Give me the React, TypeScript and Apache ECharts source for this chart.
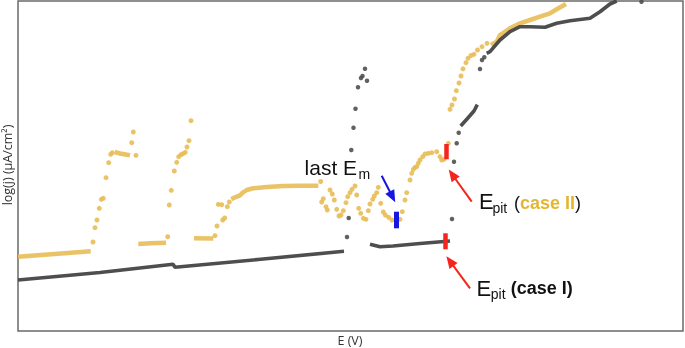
import React, { useEffect, useRef } from "react";
import * as echarts from "echarts";

// Axis extents (arbitrary units, no tick labels in the source figure)
const E_MIN = 0;
const E_MAX = 665;
const J_MIN = 0;
const J_MAX = 330;

// Case I (dark curve): densely sampled runs
const caseIRuns: [number, number][][] = [
  [[0, 51], [82, 58.5], [155, 66.7], [157, 63.7], [240, 71.5], [326, 79.7]],
  [[352, 86.7], [362, 84.3], [375, 85], [402, 87.5], [432, 90]],
  [[442.7, 205], [449, 212], [456, 220], [459.3, 226.3]],
  [[468.7, 277.7], [472, 279.3], [482, 291], [492, 299.3], [502, 304.3], [512, 304.3], [527, 303.7], [538.7, 307.7], [552, 310.3], [572, 312.7], [582, 319.3], [592, 327], [598.7, 330]],
];
// Case I: isolated points
const caseIPoints: [number, number][] = [
  [329, 94], [330.7, 113], [333.3, 181], [335.5, 203.3], [337.5, 222.3], [340, 243.7], [343, 253], [344.5, 255], [347, 262.3], [349, 250.3],
  [434, 112], [436, 169.3], [438.7, 187.7], [440.7, 198.3], [462, 262], [464, 271], [466.3, 273.7], [623.5, 329.3],
];

// Case II (golden curve): densely sampled runs
const caseIIRuns: [number, number][][] = [
  [[0, 74.3], [72.7, 79.7]],
  [[96.7, 179], [102, 177.5], [112, 175.7]],
  [[120.3, 87], [132, 87.7], [148, 88.3]],
  [[176, 92.7], [195.3, 92.5]],
  [[213.3, 131.7], [217, 133.7], [222, 135.7], [224.7, 138.3], [228.7, 141], [235.3, 142.7], [248.7, 144], [265.3, 145], [282, 145.3], [300.3, 145.3]],
  [[473, 286], [478.7, 289.3], [482, 296], [492, 302.7], [502, 307.7], [512, 311], [522, 314.3], [532, 317.7], [538.7, 321.7], [548, 327]],
];
// Case II: isolated points
const caseIIPoints: [number, number][] = [
  [75, 89], [77, 103.3], [79, 111], [81.3, 122.7], [83.3, 131.7], [85.3, 132.7], [88, 153.3], [90.7, 168.3], [92.7, 176.7], [94.3, 178.3],
  [113.7, 188.3], [115.3, 199], [118, 175.7],
  [149.7, 94.3], [151.3, 126], [153.3, 140.7], [156.3, 160], [158.7, 168.7], [160.7, 174.3], [163, 176.3], [165, 177.3], [167.3, 178.7], [169, 184], [171, 190.3], [173, 210.3],
  [197, 95.3], [199, 105], [200.3, 126.7], [203.7, 126.3], [204.7, 111], [206.7, 113], [209.3, 124.3], [211.3, 129],
  [302.7, 149.5], [303.7, 129], [305.3, 132.3], [308, 124.3], [309.3, 121], [312, 141], [314.3, 137], [316.3, 131], [318.7, 121.7], [321, 115], [323, 116],
  [325.3, 120.3], [328, 128.3], [329.7, 134.3], [332, 138.3], [334, 141.7], [337, 145], [338.7, 136], [340.7, 122.7], [342.7, 117.7], [345.3, 112.7], [348, 111.7],
  [350.3, 120.3], [352, 127], [354.7, 131.7], [356.3, 135], [358.7, 138.3], [360.3, 143.7], [362.7, 127.7], [365.3, 119], [367.3, 116], [370.7, 113.7], [374, 111],
  [378, 110.3], [382, 111.7], [384.3, 119.3], [387, 131], [388.7, 138.3], [392, 151], [393.7, 157.7], [395.3, 161.7], [397, 163.7], [398.7, 164.3], [400.3, 167.7],
  [402, 171], [404.7, 174.3], [407, 177], [410.3, 177.7], [413.7, 178.3], [418.7, 179.3], [422, 174.3], [423.7, 171], [426, 171.7],
  [430.3, 187.7], [432, 221.7], [434, 226], [436.5, 232], [438.3, 240.3], [441, 248], [443, 255], [445, 262.2], [448, 268.3], [450, 272.7], [453, 275.5],
  [456, 276.7], [459.5, 281], [464, 284.3], [469, 287.7],
];

// Annotation marks: [E, j from, j to]
const epitCaseIBar: [number, number, number] = [427.5, 81.7, 97.7];
const epitCaseIIBar: [number, number, number] = [428, 171.7, 187];
const lastEmBar: [number, number, number] = [378, 102.7, 119.3];
// Arrows: tail -> tip
const lastEmArrow: [number, number][] = [[363.7, 155.3], [377, 129.3]];
const epitCaseIIArrow: [number, number][] = [[453.7, 129.3], [431, 161]];
const epitCaseIArrow: [number, number][] = [[452, 42.7], [428.7, 74.3]];

const GOLD = "#E8BC55";
const DARK = "#454545";
const RED = "#F3251C";
const BLUE = "#1616E0";
const FONT = '"Liberation Sans", Arial, sans-serif';
const LABEL_FONT = '"Open Sans", "Liberation Sans", sans-serif';

function arrowLine(pts: [number, number][], color: string) {
  const [t, h] = pts;
  const dx = h[0] - t[0];
  const dy = h[1] - t[1];
  const len = Math.hypot(dx, dy);
  const back = 5.5;
  const end: [number, number] = [h[0] - (dx / len) * back, h[1] - (dy / len) * back];
  return [
    { coord: t, symbol: "none" },
    { coord: end, symbol: "triangle", symbolSize: [10, 12], lineStyle: { color, width: 2, type: "solid" }, itemStyle: { color } },
  ];
}

function barLine(b: [number, number, number], color: string, width: number) {
  return [
    { coord: [b[0], b[1]], symbol: "none", lineStyle: { color, width, type: "solid" } },
    { coord: [b[0], b[2]], symbol: "none" },
  ];
}

export default function App() {
  const ref = useRef<HTMLDivElement>(null);
  useEffect(() => {
    if (!ref.current) return;
    const chart = echarts.init(ref.current, undefined, { renderer: "svg" });
    const series: any[] = [];
    caseIIRuns.forEach((run) =>
      series.push({
        type: "line",
        data: run,
        symbol: "none",
        lineStyle: { color: GOLD, width: 4.5, opacity: 0.9 },
        silent: true,
        z: 2,
      })
    );
    series.push({
      type: "scatter",
      data: caseIIPoints,
      symbolSize: 5,
      itemStyle: { color: GOLD, opacity: 0.9 },
      silent: true,
      z: 2,
    });
    caseIRuns.forEach((run) =>
      series.push({
        type: "line",
        data: run,
        symbol: "none",
        lineStyle: { color: DARK, width: 3.6, opacity: 0.95 },
        silent: true,
        z: 3,
      })
    );
    series.push({
      type: "scatter",
      data: caseIPoints,
      symbolSize: 4.5,
      itemStyle: { color: "#505050", opacity: 0.9 },
      silent: true,
      z: 3,
      markLine: {
        silent: true,
        animation: false,
        label: { show: false },
        symbol: "none",
        z: 10,
        data: [
          barLine(epitCaseIBar, RED, 4.5),
          barLine(epitCaseIIBar, RED, 4.5),
          barLine(lastEmBar, BLUE, 5),
          arrowLine(lastEmArrow, BLUE),
          arrowLine(epitCaseIIArrow, RED),
          arrowLine(epitCaseIArrow, RED),
        ],
      },
    });

    const t = (text: string, x: number, y: number, size: number, extra: any = {}) => ({
      type: "text",
      x,
      y,
      silent: true,
      style: {
        text,
        font: `${extra.weight || "normal"} ${size}px ${extra.family || FONT}`,
        fill: extra.fill || "#111",
        textVerticalAlign: "middle",
        textAlign: extra.align || "left",
      },
      rotation: extra.rotation || 0,
    });

    chart.setOption({
      animation: false,
      grid: {
        left: 18,
        top: 1,
        right: 2,
        bottom: 17,
        show: true,
        borderColor: "#6a6a6a",
        borderWidth: 1.5,
        backgroundColor: "transparent",
      },
      xAxis: {
        type: "value",
        min: E_MIN,
        max: E_MAX,
        axisLine: { show: false },
        axisTick: { show: false },
        axisLabel: { show: false },
        splitLine: { show: false },
      },
      yAxis: {
        type: "value",
        min: J_MIN,
        max: J_MAX,
        axisLine: { show: false },
        axisTick: { show: false },
        axisLabel: { show: false },
        splitLine: { show: false },
      },
      series,
      graphic: [
        t("last E", 304.6, 167.4, 21),
        t("m", 358.4, 174, 14),
        t("E", 479, 201.4, 22),
        t("pit", 492.4, 208, 14),
        {
          type: "text",
          x: 514,
          y: 202.6,
          silent: true,
          style: {
            text: "{p|(}{b|case II}{p|)}",
            textVerticalAlign: "middle",
            rich: {
              p: { font: `normal 18px ${FONT}`, fill: "#111" },
              b: { font: `bold 18px ${FONT}`, fill: "#E4B62E" },
            },
          },
        },
        t("E", 476.6, 288.2, 22),
        t("pit", 490.8, 294, 14),
        t("(case I)", 510.8, 288.1, 18, { weight: "bold" }),
        t("E (V)", 350, 340.3, 12.5, { align: "center", family: LABEL_FONT, fill: "#333" }),
        t("log(j) (µA/cm²)", 7.5, 165, 12.5, { align: "center", family: LABEL_FONT, fill: "#333", rotation: Math.PI / 2 }),
      ],
    });
    return () => chart.dispose();
  }, []);
  return <div ref={ref} style={{ position: "fixed", left: 0, top: 0, width: 685, height: 348 }} />;
}
